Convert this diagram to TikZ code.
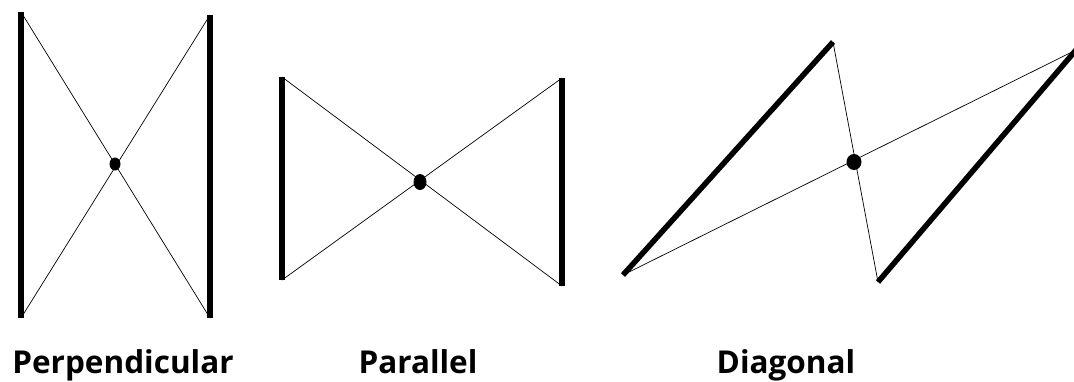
\documentclass[tikz,border=0pt]{standalone}
\usepackage{fontspec}
\setsansfont{Open Sans}
\usetikzlibrary{shapes.geometric}

\begin{document}
\begin{tikzpicture}[x=1pt, y=-1pt,
    bar/.style={line width=5.5pt},
    wire/.style={line width=0.7pt},
    pivot/.style={ellipse, fill=black, inner sep=0pt},
    caption/.style={anchor=base, inner sep=0pt, font=\sffamily\bfseries\fontsize{31.5}{36}\selectfont}]
    \useasboundingbox (0,0) rectangle (1074,381);
    % perpendicular
    \coordinate (pa) at (21,12);  \coordinate (pb) at (21,318);
    \coordinate (pc) at (210,15); \coordinate (pd) at (210,318);
    \draw[bar] (pa) -- (pb);
    \draw[bar] (pc) -- (pd);
    \draw[wire] (pa) -- (pd);
    \draw[wire] (pc) -- (pb);
    \node[pivot, minimum width=11pt, minimum height=13pt] (pdot) at (115,164) {};
    \node[caption] (plabel) at (123,373) {Perpendicular};
    % parallel
    \coordinate (qa) at (282,77);  \coordinate (qb) at (282,280);
    \coordinate (qc) at (562,78);  \coordinate (qd) at (562,286);
    \draw[bar] (qa) -- (qb);
    \draw[bar] (qc) -- (qd);
    \draw[wire] (qa) -- (qd);
    \draw[wire] (qc) -- (qb);
    \node[pivot, minimum width=13pt, minimum height=16pt] (qdot) at (420,182) {};
    \node[caption] (qlabel) at (418,373) {Parallel};
    % diagonal
    \coordinate (da) at (623,275); \coordinate (db) at (833,42);
    \coordinate (dc) at (878,282); \coordinate (dd) at (1076,50);
    \draw[bar] (da) -- (db);
    \draw[bar] (dc) -- (dd);
    \draw[wire] (db) -- (dc);
    \draw[wire] (da) -- (dd);
    \node[pivot, minimum width=15pt, minimum height=16pt] (ddot) at (854,162) {};
    \node[caption] (dlabel) at (786,373) {Diagonal};
\end{tikzpicture}
\end{document}
